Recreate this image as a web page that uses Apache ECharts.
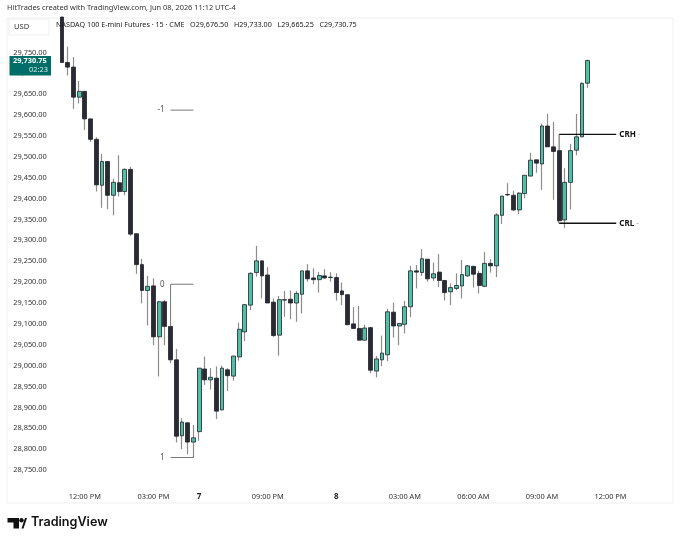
<!DOCTYPE html>
<html><head><meta charset="utf-8">
<style>html,body{margin:0;padding:0;background:#fff}#c{width:680px;height:542px}</style>
<script src="https://cdn.jsdelivr.net/npm/echarts@6/dist/echarts.min.js"></script>
</head><body><div id="c"></div>
<script>
const opens=[29835,29726,29715,29643,29657,29591,29542,29432,29489,29408,29438,29417,29470,29316,29242,29180,29191,29069,29153,29094,29014,28832,28863,28817,28842,28992,28966,28970,28894,28990,28975,29021,29081,29145,29223,29251,29217,29152,29073,29157,29159,29150,29171,29227,29210,29206,29215,29211,29211,29179,29170,29100,29089,29061,29091,28987,29014,29026,29128,29095,29099,29141,29227,29223,29255,29210,29224,29204,29177,29185,29191,29215,29238,29221,29190,29245,29239,29360,29410,29408,29373,29412,29454,29493,29483,29574,29524,29515,29349,29439,29516,29548,29676.5];
const closes=[29726,29715,29643,29657,29591,29542,29433,29489,29408,29439,29417,29470,29315,29242,29180,29190,29069,29153,29094,29014,28831,28865,28817,28827,28994,28966,28972,28891,28994,28976,29023,29087,29146,29221,29251,29215,29150,29072,29158,29158,29150,29173,29227,29208,29206,29216,29210,29212,29175,29170,29098,29089,29061,29090,28989,29016,29030,29129,29095,29101,29141,29227,29224,29256,29208,29220,29204,29175,29187,29192,29218,29239,29219,29192,29245,29239,29361,29406,29409,29373,29413,29456,29492,29485,29574,29524,29513,29347,29439,29515,29548,29676,29730.75];
const lows=[29725,29695,29615,29628,29564,29536,29417,29378,29375,29360,29405,29408,29311,29220,29149,29096,29049,28974,29049,29006,28816,28800,28788,28780,28820,28954,28943,28872,28893,28939,28964,29012,29059,29133,29213,29161,29150,29069,29024,29117,29111,29105,29125,29201,29195,29175,29207,29201,29156,29145,29097,29089,29060,29061,28982,28972,28999,29011,29067,29049,29077,29116,29185,29215,29201,29203,29188,29156,29145,29181,29161,29213,29187,29173,29188,29223,29212,29339,29406,29370,29363,29401,29454,29462,29421,29524,29397,29341,29330,29374,29504,29547,29665.25];
const highs=[29835,29764,29739,29682,29657,29591,29547,29507,29490,29448,29504,29473,29476,29316,29256,29215,29209,29155,29157,29094,29040,28874,28865,28858,28994,29022,28994,28998,29000,28994,29023,29103,29148,29224,29287,29251,29236,29161,29167,29179,29180,29179,29227,29243,29233,29224,29231,29224,29221,29199,29170,29140,29143,29098,29093,29023,29072,29136,29151,29102,29155,29239,29241,29279,29255,29247,29267,29205,29197,29221,29253,29241,29238,29227,29272,29255,29365,29407,29437,29419,29416,29456,29510,29493,29580,29603,29584,29515,29473,29531,29603,29679,29733];

const leadPad=9, trailPad=14;
const categories=[];
for(let i=0;i<leadPad+opens.length+trailPad;i++) categories.push(String(i-leadPad));
const xTickCandles=[4,16,24,36,48,60,72,84,96];
const xTickLabels=['12:00 PM','03:00 PM','7','09:00 PM','8','03:00 AM','06:00 AM','09:00 AM','12:00 PM'];
const yTickValues=[28750,28800,28850,28900,28950,29000,29050,29100,29150,29200,29250,29300,29350,29400,29450,29500,29550,29600,29650,29700,29750];
const fibLevels=[{name:'-1',value:29612},{name:'0',value:29195},{name:'1',value:28780}];
const fibStartCandle=19, fibEndCandle=23;
const crhValue=29554, crlValue=29341, rangeStartCandle=87, rangeEndCandle=97;

const pad=a=>Array(leadPad).fill('-').concat(a);
const bull='#50bfa6', bear='#2a2a35', ink='#20232b', wick='#8c8c8c';
const font='"Noto Sans", "Open Sans", sans-serif';
const ci=c=>c+leadPad;

const wickData=pad(opens.map((o,i)=>[o,closes[i],lows[i],highs[i]]));
const bodyData=pad(opens.map((o,i)=>[o,closes[i],Math.min(o,closes[i]),Math.max(o,closes[i])]));

function seg(points,color,width){
  return {type:'line',data:points,symbol:'circle',symbolSize:0,showSymbol:true,silent:true,animation:false,z:4,
    lineStyle:{color:color,width:width},itemStyle:{color:color,opacity:1},label:{show:false}};
}
const fibLine=(lvl)=>seg([
  {value:[ci(fibStartCandle),lvl.value],label:{show:true,position:'left',distance:6,formatter:lvl.name,color:'#555',fontSize:8,fontFamily:font}},
  [ci(fibEndCandle),lvl.value]
],'#777',1);
const tag=(t)=>({show:true,position:'right',distance:3,formatter:t+' {d|-}',color:'#111',fontSize:8,fontWeight:'bold',fontFamily:font,rich:{d:{color:'#aaa',fontSize:8,fontWeight:'normal'}}});

const series=[
  {type:'candlestick',data:wickData,barWidth:1,animation:false,silent:true,z:2,
   itemStyle:{color:wick,color0:wick,borderColor:wick,borderColor0:wick,borderWidth:1.2}},
  {type:'candlestick',data:bodyData,barWidth:4.4,animation:false,silent:true,z:3,
   itemStyle:{color:bull,color0:bear,borderColor:ink,borderColor0:ink,borderWidth:0.8}},
  fibLine(fibLevels[0]),fibLine(fibLevels[1]),fibLine(fibLevels[2]),
  seg([[ci(fibStartCandle),fibLevels[1].value],[ci(fibStartCandle),opens[fibStartCandle]]],'#777',1),
  seg([[ci(fibEndCandle),fibLevels[2].value],[ci(fibEndCandle),lows[fibEndCandle]+4]],'#777',1),
  seg([[ci(rangeStartCandle),crhValue],{value:[ci(rangeEndCandle),crhValue],label:tag('CRH')}],'#111',1.3),
  seg([[ci(rangeStartCandle),crlValue],{value:[ci(rangeEndCandle),crlValue],label:tag('CRL')}],'#111',1.3),
  seg([[ci(rangeStartCandle),crhValue],[ci(rangeStartCandle),opens[rangeStartCandle]]],'#555',1)
];

const chart=echarts.init(document.getElementById('c'),null,{renderer:'canvas'});
chart.setOption({
  animation:false,backgroundColor:'#fff',
  grid:{left:7.72,top:10.75,width:662.82,height:480.15,containLabel:false},
  xAxis:{type:'category',data:categories,boundaryGap:true,
    axisLine:{show:false},axisTick:{show:false},splitLine:{show:false},
    axisLabel:{margin:2,hideOverlap:false,fontSize:7.4,color:'#333',fontFamily:font,
      interval:(i)=>xTickCandles.includes(i-leadPad),
      formatter:(v,i)=>{const k=xTickCandles.indexOf(i-leadPad);if(k<0)return '';const t=xTickLabels[k];return t.length<2?'{b|'+t+'}':t;},
      rich:{b:{fontWeight:'bold',fontSize:8,color:'#222',fontFamily:font}}}},
  yAxis:{type:'value',min:28700,max:29850,position:'left',scale:true,
    axisLine:{show:false},axisTick:{show:false},splitLine:{show:false},
    axisLabel:{inside:true,margin:5.5,fontSize:7.4,color:'#333',fontFamily:font,align:'left',
      customValues:yTickValues,
      formatter:v=>v.toLocaleString('en-US',{minimumFractionDigits:2,maximumFractionDigits:2})}},
  series:series,
  graphic:[
    {type:'rect',z:0,silent:true,shape:{x:7,y:18,width:666,height:485},style:{fill:'none',stroke:'#f0f0f0',lineWidth:1}},
    {type:'text',z:10,left:7,top:4,style:{text:'HitTrades created with TradingView.com, Jun 08, 2026 11:12 UTC-4',fill:'#333',font:'7.4px '+font}},
    {type:'text',z:10,left:56,top:21,style:{text:'NASDAQ 100 E-mini Futures \u00b7 15 \u00b7 CME   O29,676.50   H29,733.00   L29,665.25   C29,730.75',fill:'#222',font:'7.2px '+font}},
    {type:'rect',z:9,shape:{x:9,y:19,width:40,height:16},style:{fill:'#fff',stroke:'#eee',lineWidth:1}},
    {type:'text',z:10,left:14,top:23,style:{text:'USD',fill:'#333',font:'7.6px '+font}},
    {type:'rect',z:9,shape:{x:9.5,y:56,width:41.5,height:19.5},style:{fill:'#006e68'}},
    {type:'text',z:10,left:13,top:57.5,style:{text:'29,730.75',fill:'#fff',font:'bold 7.4px '+font}},
    {type:'text',z:10,right:632,top:66,style:{text:'02:23',fill:'#d5e9e7',font:'7.4px '+font}},
    {type:'polygon',z:10,shape:{points:[[7.5,518],[19,518],[19,528.5],[13.5,528.5],[13.5,522.5],[7.5,522.5]]},style:{fill:'#111'}},
    {type:'circle',z:10,shape:{cx:21.5,cy:520.2,r:2.2},style:{fill:'#111'}},
    {type:'polygon',z:10,shape:{points:[[21.5,528.5],[25,518],[27,518],[23.5,528.5]]},style:{fill:'#111'}},
    {type:'text',z:10,left:31,top:516,style:{text:'TradingView',fill:'#111',font:'600 12.6px Inter, "Noto Sans", sans-serif'}}
  ]
});
</script></body></html>
